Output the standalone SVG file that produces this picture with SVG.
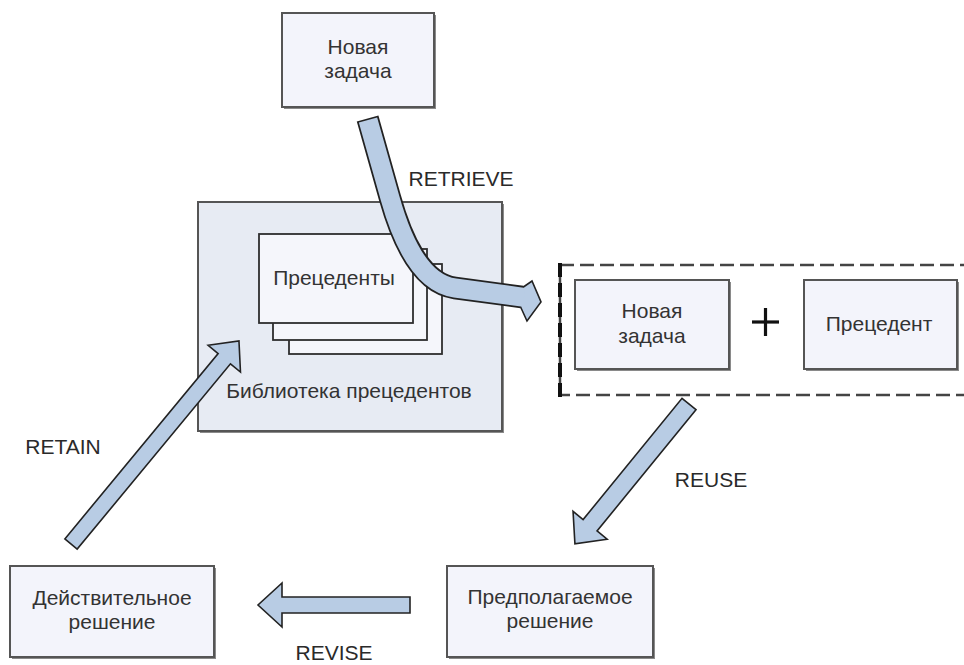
<svg xmlns="http://www.w3.org/2000/svg" width="964" height="665" viewBox="0 0 964 665">
<defs>
<style>
.t{font-family:"Liberation Sans",Arial,sans-serif;font-size:21px;fill:#333;text-anchor:middle}
.lbl{font-family:"Liberation Sans",Arial,sans-serif;font-size:21px;fill:#2a2a2a;text-anchor:middle}
.sh{fill:#8a8a8a}
.box{fill:#f3f4fb;stroke:#555;stroke-width:2}
.card{fill:#f5f6fb;stroke:#2e2e2e;stroke-width:1.8}
.arr{fill:#b8cce4;stroke:#222;stroke-width:1.6;stroke-linejoin:miter}
</style>
</defs>
<rect width="964" height="665" fill="#fff"/>

<g id="library">
<rect class="sh" x="200" y="204" width="304" height="229"/>
<rect x="198" y="202" width="304" height="229" fill="#e7ebf3" stroke="#555" stroke-width="2"/>
<rect class="card" x="289" y="264" width="153" height="90"/>
<rect class="card" x="273" y="249" width="154" height="91"/>
<rect class="card" x="259" y="234" width="154" height="89"/>
<text class="t" x="334" y="285">Прецеденты</text>
<text class="t" x="349" y="398">Библиотека прецедентов</text>
</g>

<g id="new-task-top">
<rect class="sh" x="284" y="15" width="152" height="94"/>
<rect class="box" x="282" y="13" width="152" height="94"/>
<text class="t" x="358" y="54">Новая</text>
<text class="t" x="358" y="78">задача</text>
</g>

<g id="combo">
<rect x="560" y="265" width="430" height="130" fill="none" stroke="#444" stroke-width="2.5" stroke-dasharray="14 6"/>
<line x1="560" y1="263" x2="560" y2="397" stroke="#111" stroke-width="4" stroke-dasharray="14 6"/>
<g id="new-task-2">
<rect class="sh" x="577" y="282" width="154" height="89"/>
<rect class="box" x="575" y="280" width="154" height="89"/>
<text class="t" x="652" y="318">Новая</text>
<text class="t" x="652" y="343">задача</text>
</g>
<g id="plus">
<line x1="752" y1="322" x2="779" y2="322" stroke="#111" stroke-width="3.2"/>
<line x1="765.5" y1="308" x2="765.5" y2="336" stroke="#111" stroke-width="3.2"/>
</g>
<g id="precedent">
<rect class="sh" x="806" y="282" width="153" height="89"/>
<rect class="box" x="804" y="280" width="153" height="89"/>
<text class="t" x="879" y="331">Прецедент</text>
</g>
</g>

<g id="proposed">
<rect class="sh" x="449" y="568" width="206" height="91"/>
<rect class="box" x="447" y="566" width="206" height="91"/>
<text class="t" x="550" y="604">Предполагаемое</text>
<text class="t" x="550" y="628">решение</text>
</g>

<g id="actual">
<rect class="sh" x="12" y="568" width="204" height="91"/>
<rect class="box" x="10" y="566" width="204" height="91"/>
<text class="t" x="112" y="605">Действительное</text>
<text class="t" x="112" y="629">решение</text>
</g>

<g id="connectors">
<g id="retrieve">
<path d="M367.6,118.5 L390,198 C400.8,236.5 420.3,283.3 455,288 L522,297" fill="none" stroke="#222" stroke-width="22.5"/>
<polygon class="arr" points="523.4,287 532,281 541,302 527,321 520.6,307"/>
<path d="M368,120 L390,198 C400.8,236.5 420.3,283.3 455,288 L524,297.3" fill="none" stroke="#b8cce4" stroke-width="19"/>
</g>
<polygon id="reuse" class="arr" transform="translate(689,404) rotate(129.2)" points="0,-9 156.5,-9 156.5,-22 180.5,0 156.5,22 156.5,9 0,9"/>
<polygon id="revise" class="arr" points="410,597 282,597 282,583 258,605 282,627 282,613 410,613"/>
<polygon id="retain" class="arr" transform="translate(71,544) rotate(-50.4)" points="0,-8 240.5,-8 240.5,-21 263.5,0 240.5,21 240.5,8 0,8"/>
<text class="lbl" x="461" y="186">RETRIEVE</text>
<text class="lbl" x="711" y="487">REUSE</text>
<text class="lbl" x="334" y="660">REVISE</text>
<text class="lbl" x="63" y="454">RETAIN</text>
</g>
</svg>
